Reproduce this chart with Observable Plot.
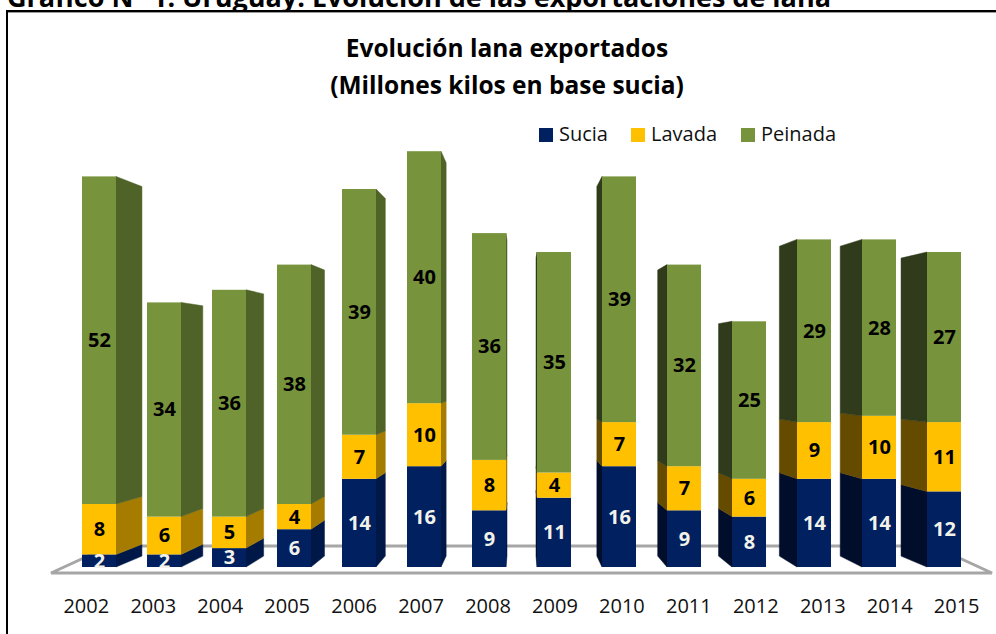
<!DOCTYPE html>
<html>
<head>
<meta charset="utf-8">
<script src="https://cdn.jsdelivr.net/npm/d3@7"></script>
<script src="https://cdn.jsdelivr.net/npm/@observablehq/plot@0.6"></script>
<style>
  body { margin: 0; background: #fff; }
  #wrap { position: relative; width: 996px; height: 634px; overflow: hidden; font-family: "Open Sans", sans-serif; color: #000; }
  #hdr { position: absolute; left: 7px; top: -17px; font-weight: bold; font-size: 27px; line-height: 27px; white-space: nowrap; }
  #frame { position: absolute; left: 6px; top: 10px; width: 1100px; height: 700px; border-left: 2px solid #000; border-top: 2px solid #000; }
  #frameShadow { position: absolute; left: 8px; top: 12px; width: 1100px; height: 1px; background: #9a9a9a; }
  #title { position: absolute; top: 29px; left: 0; width: 1014px; text-align: center; font-weight: bold; font-size: 24.5px; line-height: 37px; }
  #chart { position: absolute; left: 0; top: 0; }
  .leg { position: absolute; top: 121px; font-size: 20px; line-height: 26px; color: #111; white-space: nowrap; }
  .sw { display: inline-block; width: 14px; height: 14px; vertical-align: -1px; margin-right: 6px; }
</style>
</head>
<body>
<div id="wrap">
  <div id="chart"></div>
  <div id="hdr">Gráfico N° 1: Uruguay: Evolución de las exportaciones de lana</div>
  <div id="frame"></div>
  <div id="frameShadow"></div>
  <div id="title">Evolución lana exportados<br>(Millones kilos en base sucia)</div>
  <div id="legend"></div>
</div>
<script>
// ---- data ----
const years   = ["2002","2003","2004","2005","2006","2007","2008","2009","2010","2011","2012","2013","2014","2015"];
const sucia   = [2, 2, 3, 6, 14, 16, 9, 11, 16, 9, 8, 14, 14, 12];
const lavada  = [8, 6, 5, 4, 7, 10, 8, 4, 7, 7, 6, 9, 10, 11];
const peinada = [52, 34, 36, 38, 39, 40, 36, 35, 39, 32, 25, 29, 28, 27];
const seriesNames = ["Sucia", "Lavada", "Peinada"];

// ---- styles ----
const frontColors = ["#002060", "#FFC000", "#77933C"];
const sideLight   = ["#001848", "#A67C00", "#4F6228"];
const sideDark    = ["#000d2b", "#654b00", "#2f3b1a"];
const labelColors = ["#f2f2ea", "#000000", "#000000"];

const seriesValues = [sucia, lavada, peinada];
const data = years.flatMap((yr, i) => seriesNames.map((s, k) => ({year: yr, series: s, value: seriesValues[k][i], k})));

// legend
const legendX = [539, 631, 741];
const legend = document.getElementById("legend");
seriesNames.forEach((s, k) => {
  const d = document.createElement("div");
  d.className = "leg";
  d.style.left = legendX[k] + "px";
  d.innerHTML = `<span class="sw" style="background:${frontColors[k]}"></span>${s}`;
  legend.appendChild(d);
});

// perspective helpers
function geom(scales) {
  const x = scales.x, y = scales.y;
  const bw = x.bandwidth ? x.bandwidth() : 34;
  const first = x(years[0]), last = x(years[years.length - 1]);
  const VPX = (first + bw + last) / 2;
  const VPY = y(32);
  return {x, y, bw, VPX, VPY};
}

function floorMark(index, scales, values, dims) {
  const {y} = geom(scales);
  const g = d3.create("svg:g");
  const x0 = dims.marginLeft, x1 = dims.width - dims.marginRight;
  const yf = y(0) + 6, yb = y(0) - 21, inset = 59;
  g.append("path")
    .attr("d", `M${x0},${yf}L${x1},${yf}L${x1 - inset},${yb}L${x0 + inset},${yb}Z`)
    .attr("fill", "#ffffff")
    .attr("stroke", "#a6a6a6")
    .attr("stroke-width", 3)
    .attr("stroke-linejoin", "miter");
  return g.node();
}

function sideMark(index, scales, values, dims) {
  const {x, y, bw, VPX, VPY} = geom(scales);
  const a = 0.064, b = 0.054;
  const g = d3.create("svg:g");
  years.forEach((yr, i) => {
    const cx = x(yr) + bw / 2;
    const left = cx < VPX;
    const edge = left ? x(yr) + bw : x(yr);
    const cols = left ? sideLight : sideDark;
    let cum = 0;
    seriesValues.forEach((vals, k) => {
      const v = vals[i];
      const y1 = y(cum), y2 = y(cum + v);
      const bx = edge + a * (VPX - edge);
      const by1 = y1 + b * (VPY - y1), by2 = y2 + b * (VPY - y2);
      g.append("path")
        .attr("d", `M${edge},${y1}L${edge},${y2}L${bx},${by2}L${bx},${by1}Z`)
        .attr("fill", cols[k])
        .attr("stroke", cols[k])
        .attr("stroke-width", 0.5);
      cum += v;
    });
  });
  return g.node();
}

function xLabels(index, scales, values, dims) {
  const {x, y, bw, VPX} = geom(scales);
  const g = d3.create("svg:g")
    .attr("font-family", "Open Sans, sans-serif")
    .attr("font-size", 20)
    .attr("fill", "#111");
  years.forEach(yr => {
    const cx = x(yr) + bw / 2;
    g.append("text")
      .attr("x", cx + 0.03 * (cx - VPX))
      .attr("y", y(0) + 38)
      .attr("text-anchor", "middle")
      .attr("dominant-baseline", "central")
      .text(yr);
  });
  return g.node();
}

const chart = Plot.plot({
  width: 996,
  height: 634,
  marginLeft: 51,
  marginRight: 4,
  marginTop: 126,
  marginBottom: 67,
  style: {fontFamily: "Open Sans, sans-serif", overflow: "visible", background: "transparent"},
  x: {domain: years, padding: 0.477, round: false, axis: null},
  y: {domain: [0, 70], axis: null},
  color: {domain: seriesNames, range: frontColors},
  marks: [
    floorMark,
    sideMark,
    Plot.barY(data, {x: "year", y: "value", fill: "series"}),
    Plot.text(data, Plot.stackY({
      x: "year", y: "value",
      text: d => String(d.value),
      fill: d => labelColors[d.k],
      fontWeight: "bold",
      fontSize: 20
    })),
    xLabels
  ]
});
document.getElementById("chart").appendChild(chart);
</script>
</body>
</html>
